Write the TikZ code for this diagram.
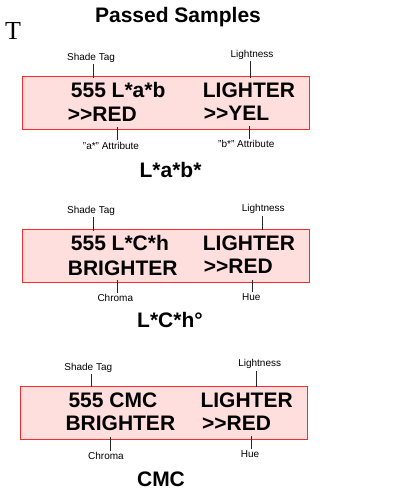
\documentclass[tikz,border=0pt]{standalone}
\usepackage{fontspec}
\setmainfont{Liberation Sans}
\newfontfamily\serifT{Liberation Serif}
\usetikzlibrary{positioning}
\definecolor{tgred}{HTML}{FF2A2A}
\definecolor{tgpink}{HTML}{FFDEDE}

\begin{document}
\begin{tikzpicture}[x=1pt,y=-1pt,
    panel/.style={draw=tgred,fill=tgpink,line width=1pt,minimum width=287.4pt,
      minimum height=52.6pt,inner sep=0pt},
    readout/.style={anchor=base west,inner sep=0pt,font=\fontsize{21}{24}\selectfont\bfseries},
    callout/.style={inner sep=1.5pt,font=\fontsize{10}{12}\selectfont},
    caption/.style={anchor=base,inner sep=0pt,font=\fontsize{21}{24}\selectfont\bfseries},
    tick/.style={line width=0.8pt,draw=black!85}
  ]
    \useasboundingbox (0,0) rectangle (403,489);
    \node[anchor=base west,inner sep=0pt,font=\serifT\fontsize{26}{28}\selectfont] (tee) at (5,40) {T};
    \node[caption] (title) at (178,22.7) {Passed Samples};
    % L*a*b*
    \node[panel] (box1) at (166,103) {};
    \node[readout] (r1a) at (70.7,97.3) {555 L*a*b};
    \node[readout] (r1b) at (202.7,97.3) {LIGHTER};
    \node[readout] (r1c) at (67.7,122) {>{}>RED};
    \node[readout] (r1d) at (203.7,121) {>{}>YEL};
    \node[callout] (s1) at (91,57.7) {Shade Tag};
    \node[callout] (l1) at (252,55) {Lightness};
    \node[callout] (a1) at (111,145.7) {"a*" Attribute};
    \node[callout] (b1) at (246.3,144.3) {"b*" Attribute};
    \coordinate (ks1) at (93.3,78);
    \coordinate (kl1) at (250.3,78);
    \coordinate (ka1) at (117.7,127);
    \coordinate (kb1) at (249,126);
    \draw[tick] (ks1) -- (ks1 |- s1.south);
    \draw[tick] (kl1) -- (kl1 |- l1.south);
    \draw[tick] (ka1) -- (ka1 |- a1.north);
    \draw[tick] (kb1) -- (kb1 |- b1.north);
    \node[caption] (c1) at (170.5,177) {L*a*b*};
    % L*C*h
    \node[panel] (box2) at (166,256) {};
    \node[readout] (r2a) at (70.7,250) {555 L*C*h};
    \node[readout] (r2b) at (202.7,250) {LIGHTER};
    \node[readout] (r2c) at (67.7,275) {BRIGHTER};
    \node[readout] (r2d) at (203.7,273) {>{}>RED};
    \node[callout] (s2) at (91,210.7) {Shade Tag};
    \node[callout] (l2) at (263.3,209.3) {Lightness};
    \node[callout] (h2) at (115.3,298) {Chroma};
    \node[callout] (u2) at (251.3,297) {Hue};
    \coordinate (ks2) at (93.3,231);
    \coordinate (kl2) at (262,230);
    \coordinate (kh2) at (117.7,280);
    \coordinate (ku2) at (252.3,280);
    \draw[tick] (ks2) -- (ks2 |- s2.south);
    \draw[tick] (kl2) -- (kl2 |- l2.south);
    \draw[tick] (kh2) -- (kh2 |- h2.north);
    \draw[tick] (ku2) -- (ku2 |- u2.north);
    \node[caption] (c2) at (170,327) {L*C*h°};
    % CMC
    \node[panel] (box3) at (163.8,412.7) {};
    \node[readout] (r3a) at (68.3,407.3) {555 CMC};
    \node[readout] (r3b) at (200.3,407.3) {LIGHTER};
    \node[readout] (r3c) at (65.3,430.7) {BRIGHTER};
    \node[readout] (r3d) at (202,430) {>{}>RED};
    \node[callout] (s3) at (88.3,367.7) {Shade Tag};
    \node[callout] (l3) at (259.7,364.3) {Lightness};
    \node[callout] (h3) at (106,456) {Chroma};
    \node[callout] (u3) at (250,454.3) {Hue};
    \coordinate (ks3) at (91,387);
    \coordinate (kl3) at (256,387);
    \coordinate (kh3) at (110.3,436.7);
    \coordinate (ku3) at (251,436);
    \draw[tick] (ks3) -- (ks3 |- s3.south);
    \draw[tick] (kl3) -- (kl3 |- l3.south);
    \draw[tick] (kh3) -- (kh3 |- h3.north);
    \draw[tick] (ku3) -- (ku3 |- u3.north);
    \node[caption] (c3) at (161,486) {CMC};
  \end{tikzpicture}
\end{document}
